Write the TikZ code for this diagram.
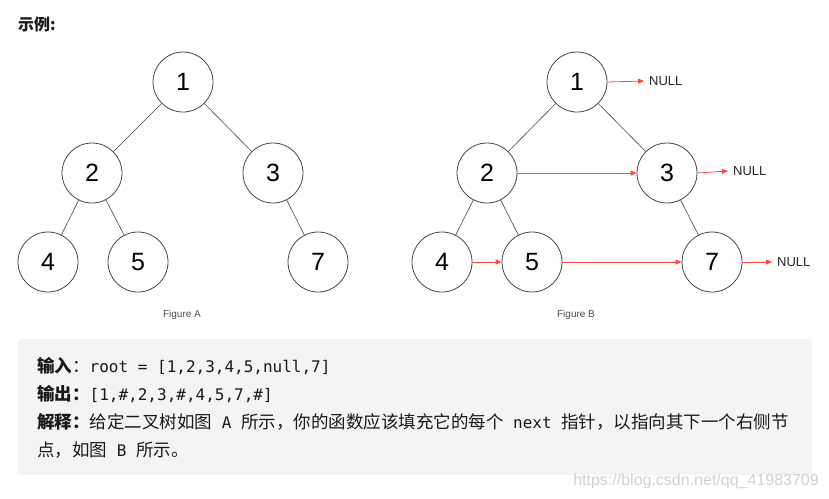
\documentclass[tikz,border=0pt]{standalone}
\usepackage{fontspec}
\setmainfont{Liberation Sans}
\setmonofont{DejaVu Sans Mono}
\newfontfamily\cjk{Noto Sans CJK SC}
\newcommand\cjkbold{\cjk\bfseries}
\usetikzlibrary{arrows.meta}
\definecolor{nxt}{RGB}{255,70,70}
\definecolor{boxbg}{RGB}{244,244,244}
\definecolor{edgec}{RGB}{70,70,70}
\tikzset{
  tn/.style={circle,draw=edgec,line width=0.8pt,minimum size=60pt,inner sep=0pt,font=\fontsize{25}{25}\selectfont},
  te/.style={draw=edgec,line width=0.6pt},
  nx/.style={draw=nxt,line width=0.8pt,-{Triangle[length=6pt,width=5pt]}},
  nulltxt/.style={font=\fontsize{13}{13}\selectfont,text=black!85,anchor=west,inner sep=0pt},
  figcap/.style={font=\fontsize{10}{10}\selectfont,text=black!70},
  txt/.style={anchor=base west,inner sep=0pt,font=\cjk\fontsize{17.5}{17.5}\selectfont,text=black!90}
}
\begin{document}
\begin{tikzpicture}[x=1pt,y=-1pt]
\path[use as bounding box] (0,0) rectangle (829,498);
\node[anchor=base west,inner sep=0pt,font=\cjkbold\fontsize{16}{16}\selectfont,text=black!90] (title) at (18,30) {示例:};
% Figure A
\node[tn] (a1) at (183,82) {1};
\node[tn] (a2) at (92,173) {2};
\node[tn] (a3) at (273,173) {3};
\node[tn] (a4) at (48,262) {4};
\node[tn] (a5) at (138,262) {5};
\node[tn] (a7) at (318,262) {7};
\draw[te] (a1) -- (a2);
\draw[te] (a1) -- (a3);
\draw[te] (a2) -- (a4);
\draw[te] (a2) -- (a5);
\draw[te] (a3) -- (a7);
\node[figcap] (capa) at (182,315) {Figure A};
% Figure B
\node[tn] (b1) at (577,82) {1};
\node[tn] (b2) at (487,173) {2};
\node[tn] (b3) at (667,173) {3};
\node[tn] (b4) at (442,262) {4};
\node[tn] (b5) at (532,262) {5};
\node[tn] (b7) at (712,262) {7};
\draw[te] (b1) -- (b2);
\draw[te] (b1) -- (b3);
\draw[te] (b2) -- (b4);
\draw[te] (b2) -- (b5);
\draw[te] (b3) -- (b7);
\node[nulltxt] (n1) at (649,81) {NULL};
\node[nulltxt] (n3) at (733,171) {NULL};
\node[nulltxt] (n7) at (777,262) {NULL};
\draw[nx] (b1.east) -- ([xshift=-5pt]n1.west);
\draw[nx] (b3.east) -- ([xshift=-5pt]n3.west);
\draw[nx] (b7.east) -- ([xshift=-5pt]n7.west);
\draw[nx] (b2.east) -- (b3.west);
\draw[nx] (b4.east) -- (b5.west);
\draw[nx] (b5.east) -- (b7.west);
\node[figcap] (capb) at (576,315) {Figure B};
% text box
\fill[boxbg,rounded corners=3pt] (18,339) rectangle (812,475);
\node[txt] (l1) at (37,372) {{\cjkbold 输入}：\texttt{\fontsize{16}{16}\selectfont root = [1,2,3,4,5,null,7]}};
\node[txt] (l2) at (37,400) {{\cjkbold 输出：}\texttt{\fontsize{16}{16}\selectfont [1,\#,2,3,\#,4,5,7,\#]}};
\node[txt] (l3) at (37,428) {{\cjkbold 解释：}给定二叉树如图\texttt{\fontsize{16}{16}\selectfont\ A\ }所示，你的函数应该填充它的每个\texttt{\fontsize{16}{16}\selectfont\ next\ }指针，以指向其下一个右侧节};
\node[txt] (l4) at (37,456) {点，如图\texttt{\fontsize{16}{16}\selectfont\ B\ }所示。};
\node[anchor=east,inner sep=0pt,font=\fontsize{16}{16}\selectfont,text=black!18] (wm) at (819,481) {https://blog.csdn.net/qq\_41983709};
\end{tikzpicture}
\end{document}
